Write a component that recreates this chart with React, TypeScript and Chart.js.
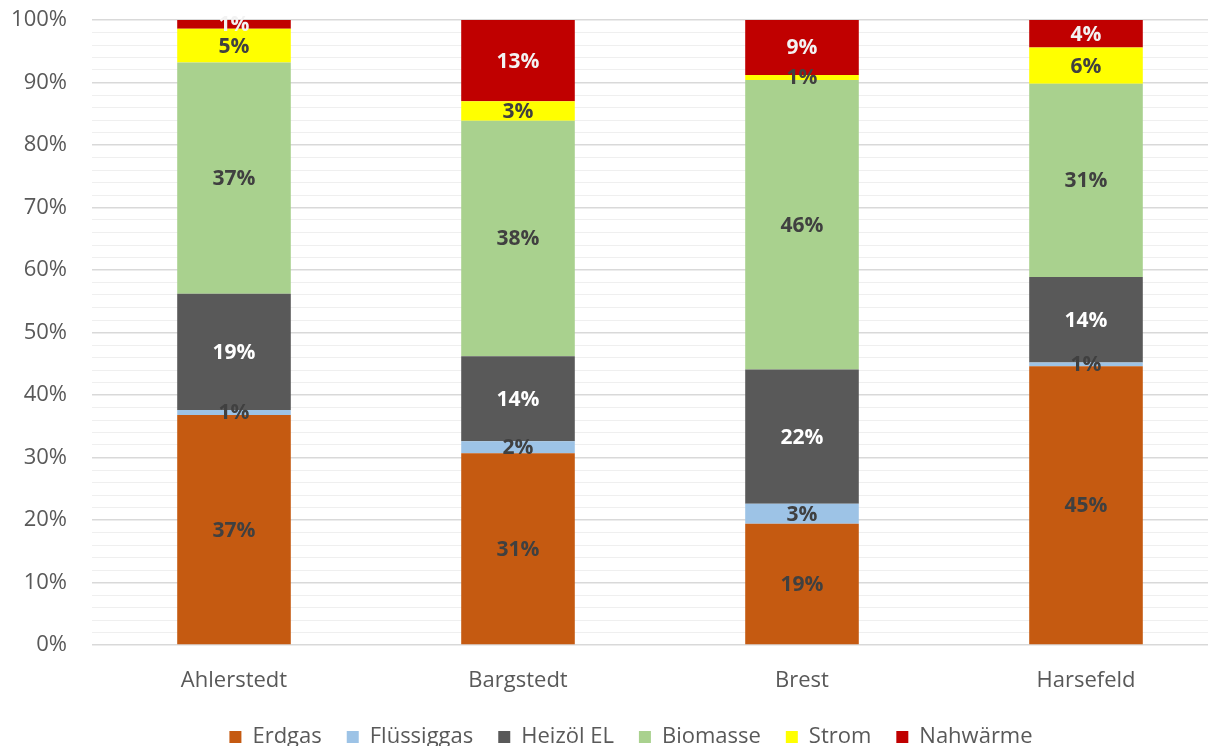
import React, { useEffect, useRef } from "react";
import { Chart, registerables } from "chart.js";

Chart.register(...registerables);

const categories = ["Ahlerstedt", "Bargstedt", "Brest", "Harsefeld"];
const erdgas = [36.8, 30.7, 19.4, 44.6];
const fluessiggas = [0.8, 1.9, 3.2, 0.6];
const heizoel = [18.6, 13.6, 21.5, 13.7];
const biomasse = [37.0, 37.7, 46.3, 30.9];
const strom = [5.4, 3.1, 0.8, 5.8];
const nahwaerme = [1.4, 13.0, 8.8, 4.4];

const seriesNames = ["Erdgas", "Flüssiggas", "Heizöl EL", "Biomasse", "Strom", "Nahwärme"];
const seriesValues = [erdgas, fluessiggas, heizoel, biomasse, strom, nahwaerme];
const seriesColors = ["#C55A11", "#9DC3E6", "#595959", "#A9D18E", "#FFFF00", "#C00000"];
const labelColors = ["#404040", "#404040", "#FFFFFF", "#404040", "#404040", "#F2F2F2"];

const FONT = "'Open Sans', 'DejaVu Sans', sans-serif";

const dataLabelPlugin = {
  id: "dataLabels",
  afterDatasetsDraw(chart: any) {
    const ctx = chart.ctx;
    ctx.save();
    ctx.font = `bold 21px ${FONT}`;
    ctx.textAlign = "center";
    ctx.textBaseline = "middle";
    chart.data.datasets.forEach((ds: any, di: number) => {
      const meta = chart.getDatasetMeta(di);
      meta.data.forEach((el: any, i: number) => {
        const v = ds.data[i];
        const p = el.getProps(["x", "y", "base"], true);
        const cy = (p.y + p.base) / 2;
        ctx.fillStyle = labelColors[di];
        ctx.fillText(Math.round(v) + "%", p.x, cy + 1);
      });
    });
    ctx.restore();
  },
};

const legendShiftPlugin = {
  id: "legendShift",
  afterLayout(chart: any) {
    const l = chart.legend;
    if (l) {
      l.left += 17;
      l.right += 17;
    }
  },
};

export default function App() {
  const ref = useRef<HTMLCanvasElement | null>(null);
  useEffect(() => {
    if (!ref.current) return;
    const chart = new Chart(ref.current, {
      type: "bar",
      data: {
        labels: categories,
        datasets: seriesNames.map((n, i) => ({
          label: n,
          data: seriesValues[i],
          backgroundColor: seriesColors[i],
          borderWidth: 0,
          barPercentage: 0.4,
          categoryPercentage: 1,
        })),
      },
      options: {
        animation: false,
        responsive: true,
        maintainAspectRatio: false,
        layout: { padding: { left: 0, right: 34, top: 20, bottom: 0 } },
        plugins: {
          legend: {
            position: "bottom",
            labels: {
              boxWidth: 12,
              boxHeight: 12,
              padding: 25,
              color: "#595959",
              font: { family: FONT, size: 22 },
            },
          },
          tooltip: { enabled: false },
        },
        scales: {
          x: {
            stacked: true,
            grid: { display: false, drawTicks: false },
            border: { display: false },
            afterFit: (s: any) => {
              s.height = 56;
            },
            ticks: {
              color: "#595959",
              font: { family: FONT, size: 22 },
              padding: 23,
            },
          },
          y: {
            stacked: true,
            min: 0,
            max: 100,
            afterFit: (s: any) => {
              s.width = 92;
              s.paddingTop = 0;
              s.paddingBottom = 0;
            },
            border: { display: false },
            grid: {
              drawTicks: false,
              color: (c: any) => (c.tick && c.tick.value % 10 === 0 ? "#D9D9D9" : "#EFEFEF"),
              lineWidth: (c: any) => (c.tick && c.tick.value % 10 === 0 ? 1.5 : 1),
            },
            ticks: {
              stepSize: 2,
              autoSkip: false,
              padding: 25,
              color: "#595959",
              font: { family: FONT, size: 22 },
              callback: (v: any) => (Number(v) % 10 === 0 ? v + "%" : ""),
            },
          },
        },
      },
      plugins: [dataLabelPlugin, legendShiftPlugin],
    });
    return () => chart.destroy();
  }, []);
  return (
    <div style={{ position: "fixed", left: 0, top: 0, width: 1208, height: 746, overflow: "hidden", background: "#fff" }}>
      <div style={{ position: "relative", width: 1262, height: 758 }}>
        <canvas ref={ref} />
      </div>
    </div>
  );
}
